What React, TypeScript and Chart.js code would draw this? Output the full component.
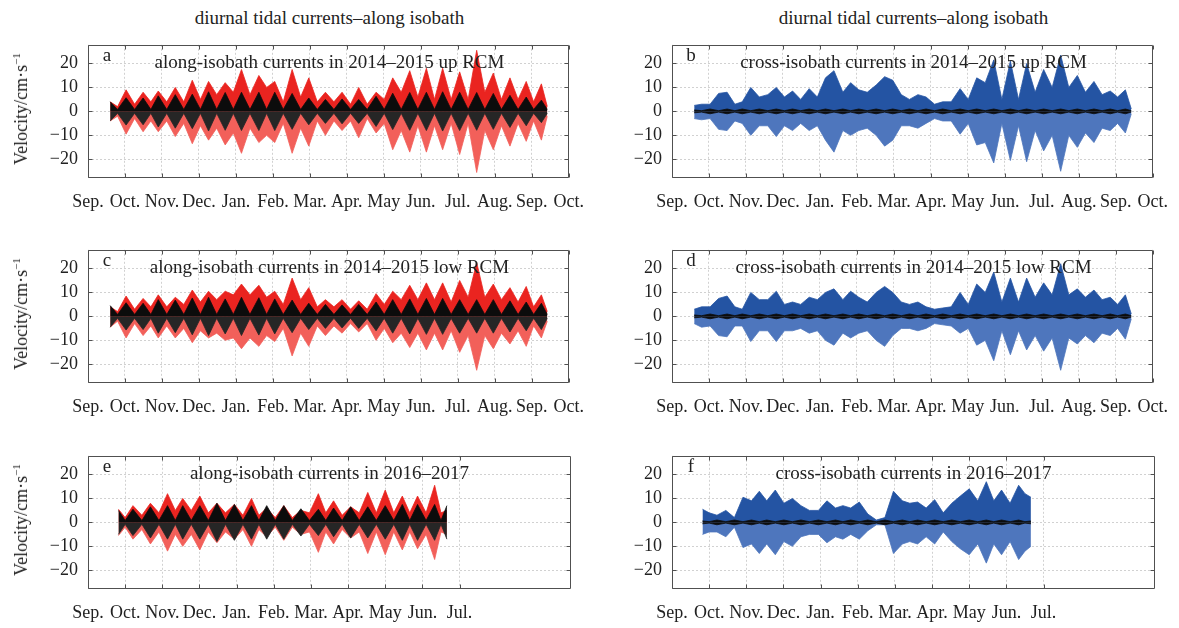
import React, { useEffect, useRef } from 'react';
import { Chart, registerables } from 'chart.js';

Chart.register(...registerables);

// ---------- axis labels ----------
const monthLabels1 = ['Sep.', 'Oct.', 'Nov.', 'Dec.', 'Jan.', 'Feb.', 'Mar.', 'Apr.', 'May', 'Jun.', 'Jul.', 'Aug.', 'Sep.', 'Oct.'];
const monthLabels2 = ['Sep.', 'Oct.', 'Nov.', 'Dec.', 'Jan.', 'Feb.', 'Mar.', 'Apr.', 'May', 'Jun.', 'Jul.'];
const yTickValues = [-20, -10, 0, 10, 20];

// ---------- 2014-2015 time grid (months from the Sep. axis origin; nodes and spring peaks) ----------
const t1 = [0.6, 0.8, 1.03, 1.26, 1.49, 1.7, 1.9, 2.13, 2.36, 2.59, 2.82, 3.04, 3.26, 3.48, 3.71, 3.93, 4.15, 4.38, 4.62, 4.83, 5.05, 5.28, 5.52, 5.75, 5.97, 6.2, 6.42, 6.65, 6.87, 7.1, 7.32, 7.55, 7.79, 8.01, 8.24, 8.47, 8.7, 8.92, 9.15, 9.37, 9.59, 9.82, 10.05, 10.28, 10.51, 10.73, 10.96, 11.18, 11.41, 11.63, 11.85, 12.05, 12.26, 12.42];

// panel a: along-isobath, up RCM (envelopes, cm/s)
const aRedHi = [4, 2, 9, 3, 8, 4, 8.5, 4, 10, 4, 13, 5, 12.5, 7, 12, 8, 17.5, 7, 15, 10, 12.5, 4, 17.5, 6, 14, 4, 8, 4, 8, 3, 10, 3, 8, 5, 14, 8, 17, 6, 18, 5, 18, 5, 16.5, 5, 25.5, 8, 16, 5, 14, 5, 12.5, 4, 11.5, 2];
const aRedLo = [-4, -2, -9.5, -3, -8.5, -4, -8.5, -4, -10.5, -5, -13.5, -6, -12, -7, -14, -9, -17.5, -7, -13, -10, -13, -5, -17.5, -7, -14.5, -4, -10, -4, -8, -4, -11, -3, -9, -5, -16, -8, -17, -6, -17, -6, -16, -5, -18, -5, -25.5, -8, -16, -6, -14.5, -5, -12.5, -4, -12, -2];
const aBlack = [4, 0.8, 5.7, 0.8, 5.6, 0.8, 6.5, 0.8, 7, 0.8, 7.2, 0.8, 8.2, 0.8, 7.9, 0.8, 8, 0.8, 8, 0.8, 8, 0.8, 7.5, 0.8, 5.6, 0.8, 5, 0.8, 5.2, 0.8, 5, 0.8, 6.3, 0.8, 7.6, 0.8, 7.9, 0.8, 8, 0.8, 8.2, 0.8, 8, 0.8, 7.9, 0.8, 7.5, 0.8, 6.7, 0.8, 6, 0.8, 4.7, 0.8];

// panel b: cross-isobath, up RCM
const bBlueHi = [2.5, 3, 3, 7.5, 8, 3, 4, 10, 6, 7, 10, 6, 8.5, 5, 9.5, 6, 14, 17, 8, 12, 9, 8, 11, 14.5, 13, 7, 5, 7, 6, 3, 4, 4, 9.5, 5, 14, 12, 21.5, 5, 21, 5, 20, 8, 17.5, 10, 23.5, 10, 15, 8, 12.5, 7, 8.5, 6, 9, 1];
const bBlueLo = [-3, -3.5, -3, -7.5, -8, -4, -5, -10, -6, -6, -10.5, -6, -8, -5, -8, -6, -12, -17, -8, -10, -8, -7, -10, -14.5, -12, -6, -6, -7, -5, -3, -4, -4, -9.5, -5, -14, -13, -21.5, -5, -20.5, -6, -21, -8, -16.5, -10, -25, -10, -15, -9, -13, -7, -8, -5, -9, -1];
const crossBlack1 = [0.6, 0.3, 1, 0.3, 1, 0.3, 1, 0.3, 1, 0.3, 1, 0.3, 1, 0.3, 1, 0.3, 1, 0.3, 1, 0.3, 1, 0.3, 1, 0.3, 1, 0.3, 1, 0.3, 1, 0.3, 1, 0.3, 1, 0.3, 1, 0.3, 1, 0.3, 1, 0.3, 1, 0.3, 1, 0.3, 1, 0.3, 1, 0.3, 1, 0.3, 1, 0.3, 1, 0.3];

// panel c: along-isobath, low RCM
const cRedHi = [4, 2, 8.5, 3, 7.5, 4, 9, 4, 8, 5, 11, 6, 10.5, 7, 10.5, 9, 13.5, 9, 13, 8, 10.5, 5, 16, 7, 12, 4, 7, 4, 7, 3, 6.5, 3, 9.5, 5, 10.5, 7, 13, 7, 14, 7, 14, 6, 15, 8, 22.5, 8, 13.5, 7, 12, 6, 12.5, 4, 9, 2];
const cRedLo = [-4.5, -2, -9, -3, -8, -4, -9, -4, -9, -5, -11, -6, -9, -7, -10, -9, -13.5, -9, -12.5, -8, -10.5, -5, -16.5, -7, -12.5, -4, -8, -4, -7, -3, -6.5, -3, -10, -5, -11, -7, -13, -7, -14, -7, -14, -6, -15, -8, -22.5, -8, -13.5, -7, -11.5, -6, -12.5, -4, -9, -2];
const cBlack = [4.5, 0.8, 5.7, 0.8, 5.5, 0.8, 7, 0.8, 6.8, 0.8, 7.7, 0.8, 8, 0.8, 7.3, 0.8, 8, 0.8, 7.8, 0.8, 7.3, 0.8, 6.8, 0.8, 5.5, 0.8, 5, 0.8, 4.8, 0.8, 5, 0.8, 6, 0.8, 7, 0.8, 7.3, 0.8, 7.5, 0.8, 7.5, 0.8, 7, 0.8, 7, 0.8, 7, 0.8, 6.5, 0.8, 6, 0.8, 5.5, 0.8];

// panel d: cross-isobath, low RCM
const dBlueHi = [3, 4, 4, 7.5, 8.5, 4, 3, 10, 7, 7, 10.5, 5, 6, 5, 8, 7, 10, 11.5, 7, 10.5, 8, 6, 10, 12.5, 10, 6, 5, 6, 4, 3, 3.5, 4, 10, 5, 13.5, 10, 18.5, 6, 16, 6, 16, 8, 14, 9, 22, 9, 11.5, 8, 11, 7, 8, 5, 9, 1];
const dBlueLo = [-3, -4.5, -4, -8, -8.5, -4, -4, -10.5, -6, -6, -10.5, -6, -6, -5, -7, -6, -10, -12, -7, -9, -7, -6, -10, -12.5, -8, -5, -5, -6, -5, -3, -3.5, -4, -7, -5, -12, -10, -18.5, -6, -16, -6, -14, -8, -14.5, -9, -22.5, -9, -11.5, -8, -11, -7, -8, -5, -9.5, -1];

// ---------- 2016-2017 time grid ----------
const t2 = [0.82, 1.0, 1.21, 1.45, 1.68, 1.91, 2.14, 2.35, 2.55, 2.78, 3.01, 3.24, 3.47, 3.7, 3.94, 4.17, 4.4, 4.6, 4.81, 5.04, 5.27, 5.5, 5.73, 5.96, 6.2, 6.4, 6.61, 6.84, 7.07, 7.3, 7.53, 7.76, 8.0, 8.23, 8.46, 8.66, 8.87, 9.1, 9.33, 9.5, 9.66];

// panel e: along-isobath 2016-2017
const eRedHi = [5.5, 2, 7, 3, 8, 4, 12, 5, 10, 5, 11, 4, 8, 4, 7.5, 3, 10, 3, 6, 2, 7, 2, 5, 4, 12, 4, 9, 3, 6.5, 4, 12.5, 4, 13.5, 4, 11, 4, 11, 4, 15.5, 4, 5];
const eRedLo = [-5.5, -2, -7, -3, -9, -4, -12, -5, -10, -5, -11.5, -4, -8.5, -4, -7, -3, -10, -3, -6, -2, -7.5, -2, -5, -4, -12.5, -4, -9, -3, -6.5, -4, -13, -4, -13.5, -4, -11.5, -4, -11, -5, -15.5, -4, -5];
const eBlack = [5, 0.8, 5.5, 0.8, 6.5, 0.8, 7, 0.8, 7, 0.8, 7, 0.8, 8, 0.8, 7.5, 0.8, 7, 0.8, 7, 0.8, 7, 0.8, 5.7, 0.8, 5.5, 0.8, 6, 0.8, 6.5, 0.8, 6.5, 0.8, 7, 0.8, 7.5, 0.8, 7.5, 0.8, 7.5, 0.8, 7];

// panel f: cross-isobath 2016-2017
const fBlueHi = [5.5, 4, 3, 5, 2, 10.5, 9, 13, 9, 13.5, 8, 10, 7, 5, 5, 9, 6, 7, 6, 8.5, 3.5, 1, 2, 13, 9, 8, 8.5, 6, 9.5, 4, 8, 11, 14, 9, 17, 9, 13.5, 8, 15.5, 12, 10.5];
const fBlueLo = [-5, -4, -4, -6, -2, -10.5, -9, -13, -9, -13.5, -8, -10, -6, -5, -5, -8.5, -6, -7, -5, -7, -3.5, -1, -1, -13, -9, -8, -9, -6, -9, -4, -8, -11, -13.5, -9, -17, -9, -13.5, -8, -15.5, -12, -10];
const crossBlack2 = [0.6, 0.3, 1, 0.3, 1, 0.3, 1, 0.3, 1, 0.3, 1, 0.3, 1, 0.3, 1, 0.3, 1, 0.3, 1, 0.3, 1, 0.3, 1, 0.3, 1, 0.3, 1, 0.3, 1, 0.3, 1, 0.3, 1, 0.3, 1, 0.3, 1, 0.3, 1, 0.3, 0.6];

// ---------- styling / layout ----------
const FONT = '"Liberation Serif", "Times New Roman", serif';
const TEXT = '#222';
const RED_HI = '#ea2420';
const RED_LO = '#f2605a';
const BLUE_HI = '#2454a3';
const BLUE_LO = '#4e76bd';
const BLACK_HI = '#0c0c0c';
const BLACK_LO = '#262626';

const TICK_SIZE = 18;
const TITLE_SIZE = 19;
const BOX_W = 483;
const BOX_H = 139;
const PAD_L = 88;
const PAD_R = 26;
const PAD_T = 15;
const PAD_B = 45;
const CW = PAD_L + BOX_W + PAD_R;
const CH = PAD_T + BOX_H + PAD_B;
const COL_X = [88, 672];
const ROW_Y = [39, 244, 450];

const neg = (arr: number[]) => arr.map((v) => -v);

type Layer = { values: number[]; color: string };
type PanelCfg = {
  key: string;
  letter: string;
  title: string;
  col: number;
  row: number;
  t: number[];
  labels: string[];
  layers: Layer[]; // bottom to top
};

const panels: PanelCfg[] = [
  {
    key: 'a', letter: 'a', title: 'along-isobath currents in 2014\u20132015 up RCM', col: 0, row: 0, t: t1, labels: monthLabels1,
    layers: [
      { values: aRedLo, color: RED_LO }, { values: aRedHi, color: RED_HI },
      { values: neg(aBlack), color: BLACK_LO }, { values: aBlack, color: BLACK_HI },
    ],
  },
  {
    key: 'b', letter: 'b', title: 'cross-isobath currents in 2014\u20132015 up RCM', col: 1, row: 0, t: t1, labels: monthLabels1,
    layers: [
      { values: bBlueLo, color: BLUE_LO }, { values: bBlueHi, color: BLUE_HI },
      { values: neg(crossBlack1), color: BLACK_HI }, { values: crossBlack1, color: BLACK_HI },
    ],
  },
  {
    key: 'c', letter: 'c', title: 'along-isobath currents in 2014\u20132015 low RCM', col: 0, row: 1, t: t1, labels: monthLabels1,
    layers: [
      { values: cRedLo, color: RED_LO }, { values: cRedHi, color: RED_HI },
      { values: neg(cBlack), color: BLACK_LO }, { values: cBlack, color: BLACK_HI },
    ],
  },
  {
    key: 'd', letter: 'd', title: 'cross-isobath currents in 2014\u20132015 low RCM', col: 1, row: 1, t: t1, labels: monthLabels1,
    layers: [
      { values: dBlueLo, color: BLUE_LO }, { values: dBlueHi, color: BLUE_HI },
      { values: neg(crossBlack1), color: BLACK_HI }, { values: crossBlack1, color: BLACK_HI },
    ],
  },
  {
    key: 'e', letter: 'e', title: 'along-isobath currents in 2016\u20132017', col: 0, row: 2, t: t2, labels: monthLabels2,
    layers: [
      { values: eRedLo, color: RED_LO }, { values: eRedHi, color: RED_HI },
      { values: neg(eBlack), color: BLACK_LO }, { values: eBlack, color: BLACK_HI },
    ],
  },
  {
    key: 'f', letter: 'f', title: 'cross-isobath currents in 2016\u20132017', col: 1, row: 2, t: t2, labels: monthLabels2,
    layers: [
      { values: fBlueLo, color: BLUE_LO }, { values: fBlueHi, color: BLUE_HI },
      { values: neg(crossBlack2), color: BLACK_HI }, { values: crossBlack2, color: BLACK_HI },
    ],
  },
];

const framePlugin = {
  id: 'frameAndTicks',
  afterDraw(chart: any) {
    const { ctx, chartArea: a, scales } = chart;
    ctx.save();
    ctx.strokeStyle = '#505050';
    ctx.lineWidth = 1;
    const L = Math.round(a.left) + 0.5;
    const R = Math.round(a.right) - 0.5;
    const T = Math.round(a.top) + 0.5;
    const B = Math.round(a.bottom) - 0.5;
    ctx.beginPath();
    ctx.rect(L, T, R - L, B - T);
    const tl = 4;
    scales.x.ticks.forEach((tk: any) => {
      const px = Math.round(scales.x.getPixelForValue(tk.value)) + 0.5;
      ctx.moveTo(px, B);
      ctx.lineTo(px, B - tl);
      ctx.moveTo(px, T);
      ctx.lineTo(px, T + tl);
    });
    scales.y.ticks.forEach((tk: any) => {
      const py = Math.round(scales.y.getPixelForValue(tk.value)) + 0.5;
      ctx.moveTo(L, py);
      ctx.lineTo(L + tl, py);
      ctx.moveTo(R, py);
      ctx.lineTo(R - tl, py);
    });
    ctx.stroke();
    ctx.restore();
  },
};

function Panel({ cfg }: { cfg: PanelCfg }) {
  const ref = useRef<HTMLCanvasElement>(null);
  useEffect(() => {
    const canvas = ref.current;
    if (!canvas) return;
    const labels = cfg.labels;
    const datasets = cfg.layers
      .slice()
      .reverse()
      .map((l) => ({
        data: cfg.t.map((x, i) => ({ x, y: l.values[i] })),
        backgroundColor: l.color,
        borderColor: l.color,
        borderWidth: 0.8,
        pointRadius: 0,
        fill: 'origin',
        tension: 0,
      }));
    const chart = new Chart(canvas, {
      type: 'line',
      data: { datasets } as any,
      options: {
        animation: false,
        responsive: false,
        maintainAspectRatio: false,
        events: [],
        layout: { padding: { left: 0, right: PAD_R, top: PAD_T, bottom: 0 } },
        plugins: { legend: { display: false }, tooltip: { enabled: false }, title: { display: false } },
        scales: {
          x: {
            type: 'linear',
            min: 0,
            max: 13,
            afterBuildTicks: (s: any) => {
              s.ticks = labels.map((_, i) => ({ value: i }));
            },
            afterFit: (s: any) => {
              s.height = PAD_B;
            },
            grid: { color: 'rgba(150,150,150,0.55)', lineWidth: 0.8, drawTicks: false },
            border: { display: false, dash: [2, 2] },
            ticks: {
              autoSkip: false,
              maxRotation: 0,
              minRotation: 0,
              padding: 13,
              color: TEXT,
              font: { family: FONT, size: TICK_SIZE },
              callback: (v: any) => labels[v as number] ?? '',
            },
          },
          y: {
            type: 'linear',
            min: -27.8,
            max: 27.8,
            afterBuildTicks: (s: any) => {
              s.ticks = yTickValues.map((v) => ({ value: v }));
            },
            afterFit: (s: any) => {
              s.width = PAD_L;
            },
            grid: { color: 'rgba(150,150,150,0.55)', lineWidth: 0.8, drawTicks: false },
            border: { display: false, dash: [2, 2] },
            ticks: {
              padding: 10,
              color: TEXT,
              font: { family: FONT, size: TICK_SIZE },
              callback: (v: any) => (v < 0 ? '\u2212' + Math.abs(v) : String(v)),
            },
          },
        },
      } as any,
      plugins: [framePlugin],
    });
    return () => chart.destroy();
  }, [cfg]);
  const boxLeft = COL_X[cfg.col];
  const boxTop = ROW_Y[cfg.row];
  return (
    <>
      <canvas
        ref={ref}
        width={CW}
        height={CH}
        style={{ position: 'absolute', left: boxLeft - PAD_L, top: boxTop - PAD_T, width: CW, height: CH }}
      />
      <div
        style={{
          position: 'absolute', left: boxLeft + 19, top: boxTop + 16, transform: 'translate(-50%, -50%)',
          fontSize: TITLE_SIZE, lineHeight: '20px', whiteSpace: 'nowrap',
        }}
      >
        {cfg.letter}
      </div>
      <div
        style={{
          position: 'absolute', left: boxLeft + BOX_W / 2, top: boxTop + 23, transform: 'translate(-50%, -50%)',
          fontSize: TITLE_SIZE, lineHeight: '20px', whiteSpace: 'nowrap',
        }}
      >
        {cfg.title}
      </div>
      {cfg.col === 0 && (
        <div
          style={{
            position: 'absolute', left: 21, top: boxTop + BOX_H / 2, transform: 'translate(-50%, -50%) rotate(-90deg)',
            fontSize: 18, lineHeight: '20px', whiteSpace: 'nowrap',
          }}
        >
          Velocity/cm·s<sup style={{ fontSize: 11, verticalAlign: 'super', lineHeight: 0 }}>−1</sup>
        </div>
      )}
    </>
  );
}

export default function App() {
  return (
    <div
      style={{
        position: 'fixed', left: 0, top: 0, width: 1179, height: 628, background: '#fff', overflow: 'hidden',
        fontFamily: FONT, color: TEXT,
      }}
    >
      {COL_X.map((x, i) => (
        <div
          key={'coltitle' + i}
          style={{
            position: 'absolute', left: x + BOX_W / 2, top: 18, transform: 'translate(-50%, -50%)',
            fontSize: TITLE_SIZE, lineHeight: '20px', whiteSpace: 'nowrap',
          }}
        >
          diurnal tidal currents–along isobath
        </div>
      ))}
      {panels.map((p) => (
        <Panel key={p.key} cfg={p} />
      ))}
    </div>
  );
}
